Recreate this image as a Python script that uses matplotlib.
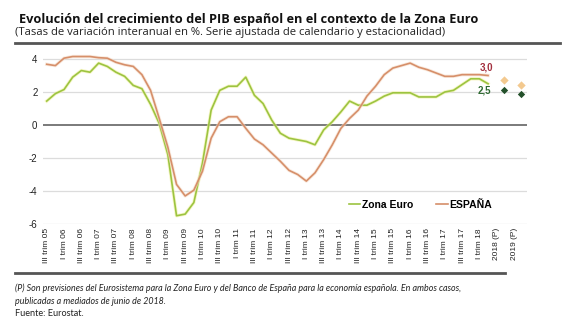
import matplotlib
matplotlib.use("Agg")
import matplotlib.pyplot as plt
import matplotlib.patheffects as pe
from matplotlib.lines import Line2D
import numpy as np

# ---- data ----
euro = [1.45, 1.9, 2.15, 2.9, 3.3, 3.2, 3.75, 3.55, 3.2, 2.95, 2.4, 2.2, 1.25, 0.1,
        -1.8, -5.5, -5.4, -4.7, -2.3, 0.9, 2.1, 2.35, 2.35, 2.9, 1.8, 1.3, 0.3, -0.5,
        -0.8, -0.9, -1.0, -1.2, -0.3, 0.2, 0.8, 1.45, 1.2, 1.2, 1.45, 1.75, 1.95, 1.95,
        1.95, 1.7, 1.7, 1.7, 2.0, 2.1, 2.45, 2.8, 2.8, 2.5]
spain = [3.68, 3.6, 4.05, 4.15, 4.15, 4.15, 4.08, 4.05, 3.8, 3.65, 3.55, 3.05, 2.1, 0.4,
         -1.35, -3.6, -4.3, -3.95, -2.8, -0.8, 0.2, 0.5, 0.5, -0.2, -0.85, -1.2, -1.7,
         -2.2, -2.75, -3.0, -3.4, -2.9, -2.1, -1.2, -0.2, 0.4, 0.9, 1.75, 2.35, 3.05,
         3.45, 3.6, 3.75, 3.5, 3.35, 3.15, 2.95, 2.95, 3.05, 3.05, 3.05, 3.0]
euro_forecast = [2.1, 1.9]
spain_forecast = [2.7, 2.4]
tick_labels = []
for yy in range(5, 18):
    tick_labels.append(f"III trim {yy:02d}")
    tick_labels.append(f"I trim {yy + 1:02d}")
tick_labels += ["2018 (P)", "2019 (P)"]
last_euro_label = "2,5"
last_spain_label = "3,0"

GREEN = "#9cc441"
ORANGE = "#d68f6a"

fig = plt.figure(figsize=(5.73, 3.21), dpi=100)
ax = fig.add_axes([43 / 573, (321 - 224) / 321, 484 / 573, 171.6 / 321])

x = np.arange(len(euro))
ticks = np.arange(len(tick_labels)) * 2
fx = ticks[-2:] + 0.8

ax.set_xlim(-0.43, 55.5)
ax.set_ylim(-6, 4.4)
for v in [-6, -4, -2, 2, 4]:
    ax.axhline(v, color="#dcdcdc", lw=0.9, zorder=0)
ax.axhline(0, color="#7a7a7a", lw=1.4, zorder=1)

ax.plot(x, euro, color=GREEN, lw=1.2, zorder=3,
        path_effects=[pe.Stroke(linewidth=2.4, foreground="#f1f0a0", alpha=0.6), pe.Normal()])
ax.plot(x, spain, color=ORANGE, lw=1.2, zorder=3,
        path_effects=[pe.Stroke(linewidth=2.4, foreground="#f5dcc8", alpha=0.6), pe.Normal()])

ax.scatter(fx, spain_forecast, marker="D", s=18, color="#f3c98f", zorder=4, linewidths=0)
ax.scatter(fx, euro_forecast, marker="D", s=14, color="#23502a", zorder=4, linewidths=0)

ax.annotate(last_spain_label, (x[-1], spain[-1]), xytext=(-1, 2), textcoords="offset points",
            ha="center", va="bottom", fontsize=7, fontweight="bold", color="#a3303f",
            family="Liberation Sans")
ax.annotate(last_euro_label, (x[-1], euro[-1]), xytext=(-3, -1.5), textcoords="offset points",
            ha="center", va="top", fontsize=7, fontweight="bold", color="#2f6a32",
            family="Liberation Sans")

ax.set_xticks(ticks)
ax.set_xticklabels(tick_labels, rotation=90, fontsize=6, family="Liberation Sans", color="#222222")
ax.set_yticks([-6, -4, -2, 0, 2, 4])
ax.set_yticklabels(["-6", "-4", "-2", "0", "2", "4"], fontsize=7, family="Liberation Sans", color="#222222")
ax.tick_params(length=0, pad=4)
ax.tick_params(axis="x", pad=3)
for s in ax.spines.values():
    s.set_visible(False)

handles = [Line2D([], [], color=GREEN, lw=1.2), Line2D([], [], color=ORANGE, lw=1.2)]
leg = ax.legend(handles, ["Zona Euro", "ESPAÑA"], loc="center", bbox_to_anchor=(0.78, 0.111),
                ncol=2, frameon=False, handlelength=1.1, handletextpad=0.15, columnspacing=2.2,
                prop={"family": "Liberation Sans", "weight": "bold", "size": 7.5})

# title & texts
fig.text(19 / 573, 1 - 19.5 / 321, "Evolución del crecimiento del PIB español en el contexto de la Zona Euro",
         fontsize=9.15, fontweight="bold", family="Open Sans", va="center", ha="left", color="#111111")
fig.text(15 / 573, 1 - 32.5 / 321, "(Tasas de variación interanual en %. Serie ajustada de calendario y estacionalidad)",
         fontsize=8.1, family="Open Sans", va="center", ha="left", color="#222222")
fig.add_artist(Line2D([15 / 573, 560 / 573], [1 - 42.7 / 321] * 2, color="#555555", lw=2.0))
fig.add_artist(Line2D([15 / 573, 505 / 573], [1 - 273 / 321] * 2, color="#555555", lw=2.0))
fig.text(15 / 573, 1 - 288 / 321,
         "(P) Son previsiones del Eurosistema para la Zona Euro y del Banco de España para la economía española. En ambos casos,",
         fontsize=6.4, style="italic", family="Lato", va="center", ha="left", color="#222222")
fig.text(15 / 573, 1 - 301 / 321, "publicadas a mediados de junio de 2018.",
         fontsize=6.4, style="italic", family="Lato", va="center", ha="left", color="#222222")
fig.text(15 / 573, 1 - 314 / 321, "Fuente: Eurostat.",
         fontsize=6.6, family="Lato", va="center", ha="left", color="#222222")

fig.savefig("out.png", dpi=100, facecolor="white")
